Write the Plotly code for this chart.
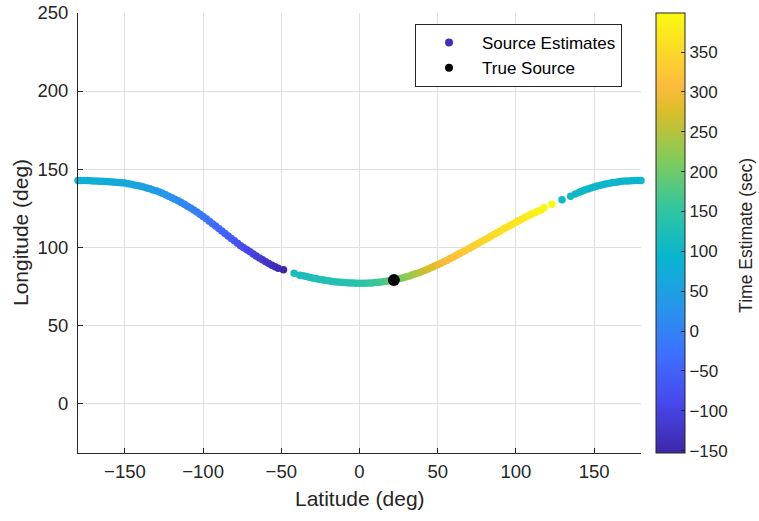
import plotly.graph_objects as go

# ---- data ----
lat_west = [-180, -178, -176, -174, -172, -170, -168, -166, -164, -162, -160, -158, -156, -154, -152,
            -150, -148, -146, -144, -142, -140, -138, -136, -134, -132, -130, -128, -126, -124, -122,
            -120, -118, -116, -114, -112, -110, -108, -106, -104, -102, -100, -98, -96, -94, -92,
            -90, -88, -86, -84, -82, -80, -78, -76, -74, -72, -70, -68, -66, -64, -62,
            -60, -58, -56, -54, -52, -48.6]
lon_west = [142.7, 142.7, 142.6, 142.6, 142.5, 142.4, 142.3, 142.2, 142.1, 142.0, 141.8, 141.7, 141.5, 141.3, 141.2,
            141.0, 140.6, 140.2, 139.8, 139.4, 139.0, 138.5, 137.9, 137.3, 136.6, 136.0, 135.3, 134.4, 133.5, 132.6,
            131.6, 130.7, 129.6, 128.5, 127.4, 126.2, 125.0, 123.7, 122.4, 121.0, 119.6, 118.1, 116.6, 115.0, 113.5,
            111.9, 110.3, 108.6, 107.0, 105.5, 104.0, 102.4, 100.9, 99.6, 98.3, 97.0, 95.6, 94.3, 93.0, 91.8,
            90.6, 89.4, 88.3, 87.3, 86.4, 85.4]
t_west = [80, 80, 79, 79, 78, 78, 77, 77, 76, 75, 74, 73, 72, 71, 70,
          68, 66, 64, 62, 60, 57, 55, 52, 49, 46, 43, 40, 36, 33, 29,
          26, 22, 18, 14, 10, 6, 2, -2, -6, -10, -15, -20, -25, -31, -36,
          -41, -46, -52, -57, -62, -68, -73, -79, -84, -90, -95, -100, -106, -111, -117,
          -122, -127, -132, -137, -142, -153]

lat_mid = [-41.8, -38.2, -36, -34, -32, -30, -28, -26, -24, -22, -20, -18, -16, -14, -12, -10, -8, -6, -4, -2,
           0, 2, 4, 6, 8, 10, 12, 14, 16, 18, 20, 22, 24, 26, 28, 30, 32, 34, 36, 38,
           40, 42, 44, 46, 48, 50, 52, 54, 56, 58, 60, 62, 64, 66, 68, 70, 72, 74, 76, 78,
           80, 82, 84, 86, 88, 90, 92, 94, 96, 98, 100, 102, 104, 106, 108, 110, 112, 114, 116,
           118, 123]
lon_mid = [83.2, 82.0, 81.6, 81.1, 80.6, 80.2, 79.8, 79.4, 79.0, 78.7, 78.4, 78.1, 77.8, 77.6, 77.4, 77.2, 77.1, 77.0, 76.9, 76.8,
           76.8, 76.8, 76.8, 76.9, 77.0, 77.2, 77.4, 77.6, 77.9, 78.2, 78.5, 78.9, 79.3, 79.8, 80.3, 80.9, 81.5, 82.2, 82.9, 83.6,
           84.4, 85.2, 86.0, 86.9, 87.8, 88.7, 89.6, 90.6, 91.6, 92.6, 93.6, 94.7, 95.8, 96.9, 98.0, 99.1, 100.2, 101.3, 102.4, 103.5,
           104.6, 105.7, 106.9, 108.0, 109.2, 110.3, 111.5, 112.6, 113.7, 114.8, 115.9, 117.0, 118.0, 119.1, 120.1, 121.1, 122.0, 122.9, 123.8,
           125.2, 127.4]
t_mid = [118, 120, 121, 122, 123, 124, 125, 126, 127, 128, 129, 130, 131, 132, 133, 134, 135, 136, 137, 139,
         141, 143, 146, 149, 153, 157, 162, 167, 173, 179, 185, 192, 199, 206, 213, 220, 227, 234, 242, 250,
         258, 265, 272, 278, 284, 290, 295, 300, 305, 310, 314, 318, 321, 325, 328, 332, 335, 339, 342, 346,
         349, 351, 353, 355, 357, 360, 362, 364, 366, 367, 369, 371, 373, 375, 377, 380, 382, 385, 388,
         392, 398]

lat_east = [129.5, 135, 138, 140.5, 142, 144, 146, 148, 150, 152, 154, 156, 158, 160, 162, 164, 166, 168, 170,
            172, 174, 176, 178, 180]
lon_east = [130.3, 132.6, 134.0, 135.1, 135.7, 136.5, 137.2, 137.9, 138.5, 139.1, 139.6, 140.1, 140.5, 140.9,
            141.3, 141.6, 141.9, 142.1, 142.3, 142.4, 142.5, 142.6, 142.7, 142.7]
t_east = [106, 105, 104, 104, 103, 103, 102, 102, 101, 101, 100, 100, 99, 99, 98, 98, 97, 97, 96, 96, 95, 95, 94, 94]

true_lat = [22.0]
true_lon = [78.8]

x_ticks = [-150, -100, -50, 0, 50, 100, 150]
y_ticks = [0, 50, 100, 150, 200, 250]
cb_ticks = [-150, -100, -50, 0, 50, 100, 150, 200, 250, 300, 350]
t_min, t_max = -153, 399

parula = [
    [0.0, 'rgb(62,38,168)'],
    [1 / 9, 'rgb(71,71,235)'],
    [2 / 9, 'rgb(62,111,255)'],
    [3 / 9, 'rgb(39,150,235)'],
    [4 / 9, 'rgb(8,181,208)'],
    [5 / 9, 'rgb(49,198,159)'],
    [6 / 9, 'rgb(129,204,89)'],
    [7 / 9, 'rgb(220,189,41)'],
    [0.835, 'rgb(253,188,60)'],
    [8 / 9, 'rgb(252,207,48)'],
    [1.0, 'rgb(249,251,14)'],
]

lat_all = lat_west + lat_mid + lat_east
lon_all = lon_west + lon_mid + lon_east
t_all = t_west + t_mid + t_east

INK = '#262626'
GRID = '#dfdfdf'
FONT = 'Liberation Sans, Arial, Helvetica, sans-serif'

fig = go.Figure()
fig.add_trace(go.Scatter(
    x=lat_all, y=lon_all, mode='markers', showlegend=False, cliponaxis=False,
    hovertemplate='lat %{x}<br>lon %{y}<br>t %{marker.color}<extra></extra>',
    marker=dict(
        size=7.5, color=t_all, colorscale=parula, cmin=t_min, cmax=t_max,
        line=dict(width=0), showscale=True,
        colorbar=dict(
            x=1.0266, xanchor='left', xpad=0, y=0.5, yanchor='middle', len=1, lenmode='fraction',
            ypad=0, thickness=29, outlinecolor=INK, outlinewidth=1,
            tickvals=cb_ticks, ticks='inside', ticklen=4, tickcolor=INK, tickwidth=1,
            tickfont=dict(size=17, color=INK, family=FONT),
        ),
    ),
))
fig.add_trace(go.Scatter(
    x=true_lat, y=true_lon, mode='markers', showlegend=False, cliponaxis=False,
    marker=dict(size=12, color='black'),
))
# legend entries
fig.add_trace(go.Scatter(x=[None], y=[None], mode='markers', name='Source Estimates',
                         marker=dict(size=8, color='rgb(66,46,184)')))
fig.add_trace(go.Scatter(x=[None], y=[None], mode='markers', name='True Source',
                         marker=dict(size=8, color='black')))

fig.update_layout(
    width=759, height=521,
    margin=dict(l=78, r=118, t=13, b=68, autoexpand=False),
    paper_bgcolor='white', plot_bgcolor='white',
    font=dict(family=FONT, color=INK, size=18.5),
    xaxis=dict(range=[-180, 180], tickvals=x_ticks, ticks='inside', ticklen=5, tickcolor=INK,
               showline=True, linecolor=INK, linewidth=1, showgrid=True, gridcolor=GRID, gridwidth=1,
               zeroline=False, ticklabelstandoff=2),
    yaxis=dict(range=[-32, 250], tickvals=y_ticks, ticks='inside', ticklen=5, tickcolor=INK,
               showline=True, linecolor=INK, linewidth=1, showgrid=True, gridcolor=GRID, gridwidth=1,
               zeroline=False, ticklabelstandoff=5),
    legend=dict(x=0.5986, y=0.975, xanchor='left', yanchor='top', bgcolor='white',
                bordercolor=INK, borderwidth=1, font=dict(size=17, color='black', family=FONT),
                itemwidth=56, tracegroupgap=0),
    showlegend=True,
    annotations=[
        dict(text='Latitude (deg)', xref='paper', yref='paper', x=0.5, y=-0.1023,
             xanchor='center', yanchor='middle', showarrow=False, font=dict(size=21, color=INK)),
        dict(text='Longitude (deg)', xref='paper', yref='paper', x=-0.1030, y=0.5, textangle=-90,
             xanchor='center', yanchor='middle', showarrow=False, font=dict(size=21, color=INK)),
        dict(text='Time Estimate (sec)', xref='paper', yref='paper', x=1.1877, y=0.495, textangle=-90,
             xanchor='center', yanchor='middle', showarrow=False, font=dict(size=17.5, color=INK)),
    ],
)

fig.write_html('out.html')
